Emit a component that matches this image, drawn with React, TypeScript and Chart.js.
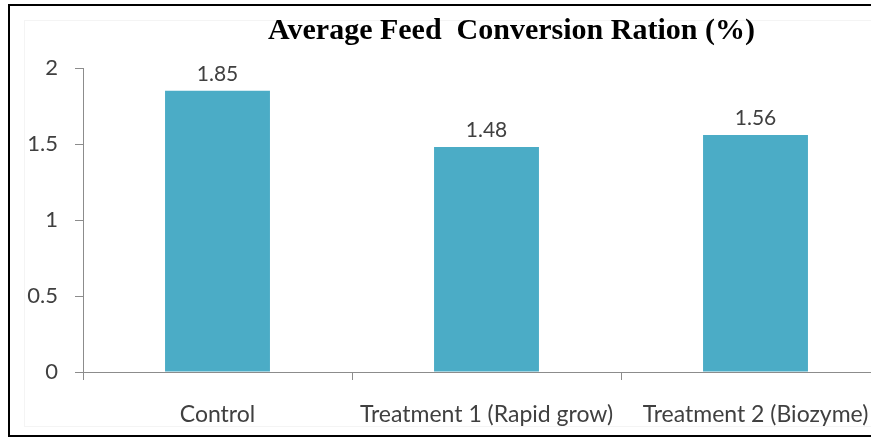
import React, { useEffect, useRef } from "react";
import { Chart, registerables } from "chart.js";

Chart.register(...registerables);

const chartTitle = "Average Feed  Conversion Ration (%)";
const categories = ["Control", "Treatment 1 (Rapid grow)", "Treatment 2 (Biozyme)"];
const fcrValues = [1.85, 1.48, 1.56];
const yTicks = [0, 0.5, 1, 1.5, 2];

const barColor = "#4BACC6";
const textColor = "#404040";
const axisColor = "#8c8c8c";
const sansFont = "Lato, 'Liberation Sans', sans-serif";
const serifFont = "'Liberation Serif', 'Times New Roman', serif";

const CANVAS_W = 880;
const CANVAS_H = 429;

// Value written just above every bar
const valueLabels = {
  id: "valueLabels",
  afterDatasetsDraw(chart: any) {
    const ctx = chart.ctx;
    const meta = chart.getDatasetMeta(0);
    const data = chart.data.datasets[0].data as number[];
    ctx.save();
    ctx.font = `21px ${sansFont}`;
    ctx.fillStyle = textColor;
    ctx.textAlign = "center";
    ctx.textBaseline = "middle";
    meta.data.forEach((bar: any, i: number) => {
      ctx.fillText(data[i].toFixed(2), bar.x, bar.y - 17);
    });
    ctx.restore();
  },
};

// Bold serif heading over the plot
const headingPlugin = {
  id: "heading",
  afterDraw(chart: any) {
    const { ctx, chartArea } = chart;
    ctx.save();
    ctx.font = `bold 30px ${serifFont}`;
    ctx.fillStyle = "#000";
    ctx.textAlign = "center";
    ctx.textBaseline = "middle";
    ctx.fillText(chartTitle, (chartArea.left + chartArea.right) / 2 + 25, 25);
    ctx.restore();
  },
};

export default function App() {
  const canvasRef = useRef<HTMLCanvasElement | null>(null);

  useEffect(() => {
    if (!canvasRef.current) return;
    const chart = new Chart(canvasRef.current, {
      type: "bar",
      data: {
        labels: categories,
        datasets: [
          {
            data: fcrValues,
            backgroundColor: barColor,
            borderWidth: 0,
            categoryPercentage: 1,
            barPercentage: 0.39,
          },
        ],
      },
      options: {
        responsive: false,
        animation: false,
        devicePixelRatio: 1,
        layout: { padding: { top: 62, right: 0, bottom: 0, left: 0 } },
        plugins: {
          legend: { display: false },
          title: { display: false },
          tooltip: { enabled: false },
        },
        scales: {
          x: {
            grid: {
              offset: true,
              drawOnChartArea: false,
              drawTicks: true,
              tickLength: 8,
              color: axisColor,
            },
            border: { color: axisColor },
            ticks: {
              color: textColor,
              font: { family: sansFont, size: 23 },
              padding: 21,
              maxRotation: 0,
              autoSkip: false,
            },
            afterFit(scale: any) {
              scale.height = 63;
            },
          },
          y: {
            min: 0,
            max: 2,
            afterBuildTicks(scale: any) {
              scale.ticks = yTicks.map((v) => ({ value: v }));
            },
            grid: {
              drawOnChartArea: false,
              drawTicks: true,
              tickLength: 8,
              color: axisColor,
            },
            border: { color: axisColor },
            ticks: {
              color: textColor,
              font: { family: sansFont, size: 22 },
              padding: 17,
              callback: (v: any) => String(v),
            },
            afterFit(scale: any) {
              scale.width = 73;
            },
          },
        },
      },
      plugins: [valueLabels, headingPlugin],
    });
    return () => chart.destroy();
  }, []);

  return (
    <div
      style={{
        position: "fixed",
        left: 0,
        top: 0,
        width: 871,
        height: 438,
        overflow: "hidden",
        background: "#fff",
      }}
    >
      <div
        style={{
          position: "absolute",
          left: 8,
          top: 4,
          width: 900,
          height: CANVAS_H,
          border: "2px solid #000",
        }}
      >
        <div
          style={{
            position: "absolute",
            left: 14,
            top: 14,
            width: 900,
            height: 405,
            border: "1px solid #f4f4f4",
          }}
        />
        <canvas
          ref={canvasRef}
          width={CANVAS_W}
          height={CANVAS_H}
          style={{ position: "absolute", left: 0, top: 0 }}
        />
      </div>
    </div>
  );
}
